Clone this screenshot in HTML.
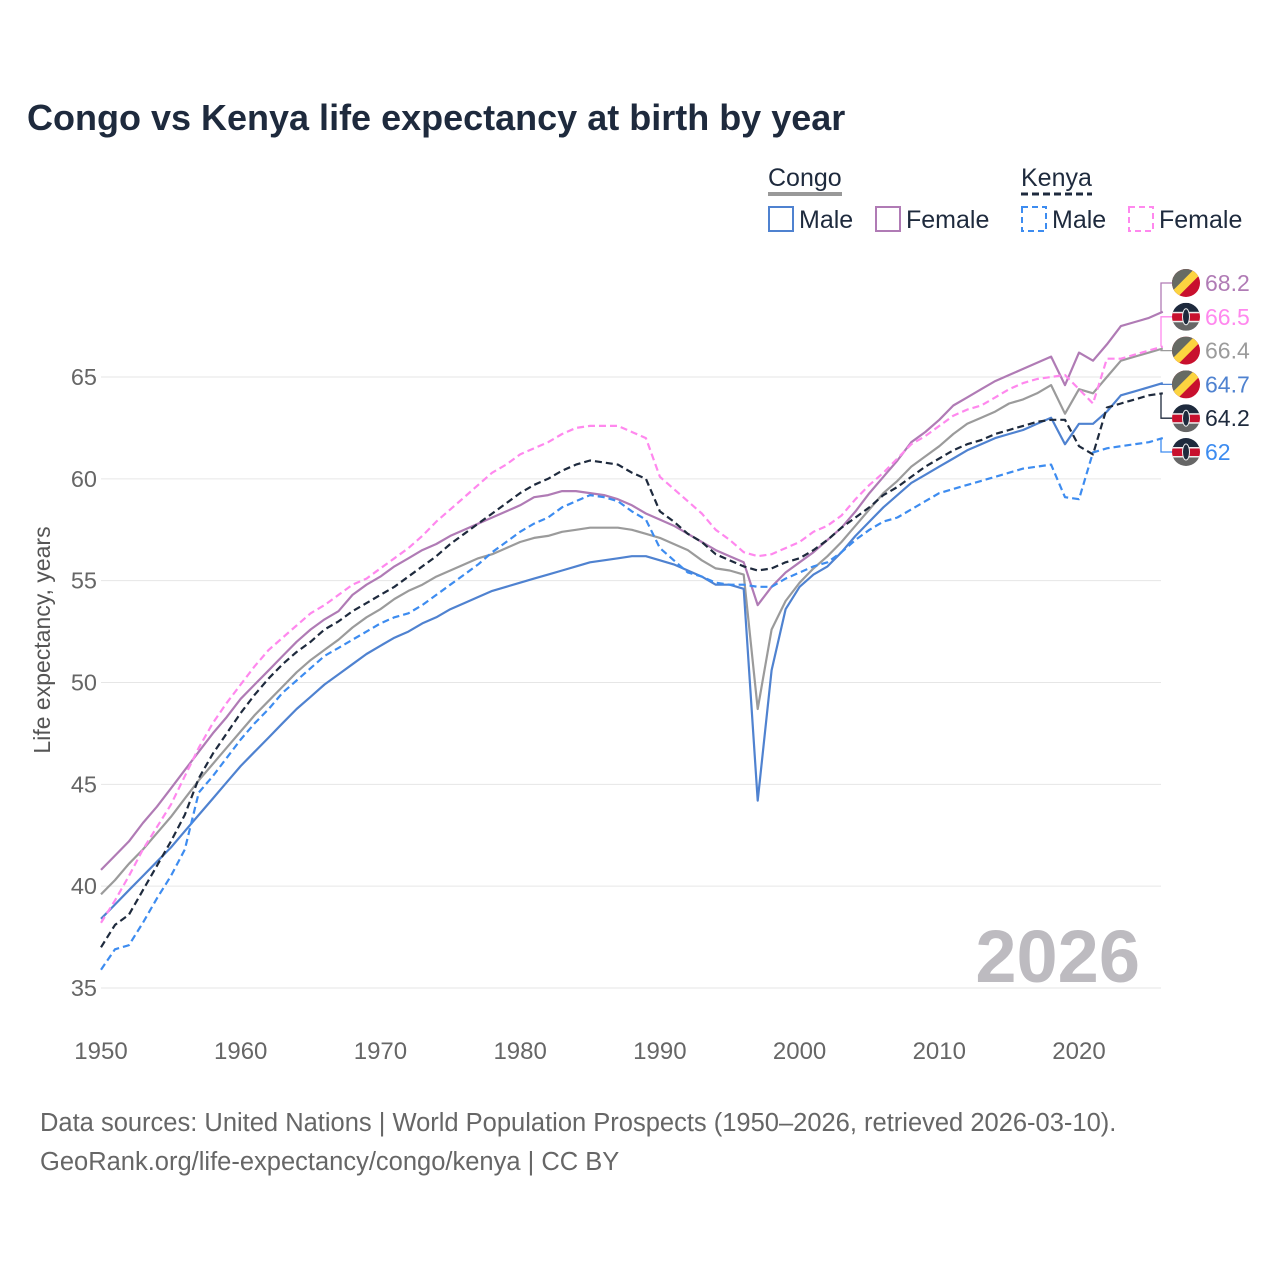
<!DOCTYPE html>
<html><head><meta charset="utf-8"><style>
body{margin:0;background:#fff;font-family:"Liberation Sans",sans-serif;}
</style></head><body>
<svg id="chart" width="1280" height="1280" xmlns="http://www.w3.org/2000/svg" font-family="Liberation Sans, sans-serif">
<rect width="1280" height="1280" fill="#fff"/>
<text x="27" y="130" font-size="36" font-weight="bold" fill="#1e2a3d">Congo vs Kenya life expectancy at birth by year</text>
<g font-size="25" fill="#1e2a3d">
<text x="768" y="186" fill="#1e2a3d">Congo</text>
<line x1="768" y1="194" x2="842" y2="194" stroke="#999" stroke-width="4"/>
<text x="1021" y="186" fill="#1e2a3d">Kenya</text>
<line x1="1021" y1="194" x2="1092" y2="194" stroke="#1e2a3d" stroke-width="3" stroke-dasharray="7,4"/>
<g><rect x="769" y="207" width="24" height="24" fill="none" stroke="#4f82d0" stroke-width="2"/><text x="799" y="228">Male</text></g>
<g><rect x="876" y="207" width="24" height="24" fill="none" stroke="#b07bb5" stroke-width="2"/><text x="906" y="228">Female</text></g>
<g><rect x="1022" y="207" width="24" height="24" fill="none" stroke="#3d8cf0" stroke-width="2" stroke-dasharray="6,4"/><text x="1052" y="228">Male</text></g>
<g><rect x="1129" y="207" width="24" height="24" fill="none" stroke="#ff88ee" stroke-width="2" stroke-dasharray="6,4"/><text x="1159" y="228">Female</text></g>
</g>
<g id="grid"></g>
<g id="axes"></g>
<text x="1140" y="982" text-anchor="end" font-size="74" font-weight="bold" fill="#bdbbc0">2026</text>
<g id="series"></g>
<g id="labels"></g>
<text transform="translate(50,640) rotate(-90)" text-anchor="middle" font-size="23" fill="#555">Life expectancy, years</text>
<text x="40" y="1131" font-size="25.5" fill="#666">Data sources: United Nations | World Population Prospects (1950–2026, retrieved 2026-03-10).</text>
<text x="40" y="1170" font-size="25.5" fill="#666">GeoRank.org/life-expectancy/congo/kenya | CC BY</text>
</svg>
<script>
const startYear = 1950;
const yTicks = [35,40,45,50,55,60,65];
const xTicks = [1950,1960,1970,1980,1990,2000,2010,2020];
const congoFemale = [40.8,41.5,42.2,43.1,43.9,44.8,45.7,46.6,47.5,48.3,49.2,49.9,50.6,51.3,52.0,52.6,53.1,53.5,54.3,54.8,55.2,55.7,56.1,56.5,56.8,57.2,57.5,57.8,58.1,58.4,58.7,59.1,59.2,59.4,59.4,59.3,59.2,59.0,58.7,58.3,58.0,57.7,57.3,56.9,56.5,56.2,55.9,53.8,54.7,55.4,55.9,56.4,57.0,57.6,58.4,59.3,60.1,60.9,61.8,62.3,62.9,63.6,64.0,64.4,64.8,65.1,65.4,65.7,66.0,64.6,66.2,65.8,66.6,67.5,67.7,67.9,68.2];
const congoTotal = [39.6,40.3,41.1,41.8,42.6,43.4,44.3,45.2,46.0,46.8,47.6,48.4,49.1,49.8,50.5,51.1,51.6,52.1,52.7,53.2,53.6,54.1,54.5,54.8,55.2,55.5,55.8,56.1,56.3,56.6,56.9,57.1,57.2,57.4,57.5,57.6,57.6,57.6,57.5,57.3,57.1,56.8,56.5,56.0,55.6,55.5,55.3,48.7,52.6,54.0,54.9,55.6,56.2,56.9,57.7,58.5,59.3,59.9,60.6,61.1,61.6,62.2,62.7,63.0,63.3,63.7,63.9,64.2,64.6,63.2,64.4,64.2,65.0,65.8,66.0,66.2,66.4];
const congoMale = [38.4,39.1,39.8,40.5,41.2,41.9,42.7,43.5,44.3,45.1,45.9,46.6,47.3,48.0,48.7,49.3,49.9,50.4,50.9,51.4,51.8,52.2,52.5,52.9,53.2,53.6,53.9,54.2,54.5,54.7,54.9,55.1,55.3,55.5,55.7,55.9,56.0,56.1,56.2,56.2,56.0,55.8,55.5,55.2,54.8,54.8,54.6,44.2,50.6,53.6,54.7,55.3,55.7,56.4,57.2,57.9,58.6,59.2,59.8,60.2,60.6,61.0,61.4,61.7,62.0,62.2,62.4,62.7,63.0,61.7,62.7,62.7,63.3,64.1,64.3,64.5,64.7];
const kenyaTotal = [37.0,38.1,38.6,39.8,41.0,42.2,43.5,45.3,46.5,47.5,48.5,49.4,50.2,50.9,51.5,52.0,52.6,53.0,53.5,53.9,54.3,54.7,55.2,55.7,56.2,56.8,57.3,57.8,58.3,58.8,59.3,59.7,60.0,60.4,60.7,60.9,60.8,60.7,60.3,60.0,58.4,57.9,57.3,56.9,56.3,56.0,55.7,55.5,55.6,55.9,56.1,56.5,57.0,57.6,58.1,58.6,59.2,59.6,60.1,60.6,61.0,61.4,61.7,61.9,62.2,62.4,62.6,62.8,62.9,62.9,61.6,61.2,63.5,63.7,63.9,64.1,64.2];
const kenyaFemale = [38.2,39.3,40.5,41.8,42.9,44.0,45.4,46.8,48.0,49.0,49.9,50.8,51.6,52.2,52.8,53.4,53.8,54.3,54.8,55.1,55.6,56.1,56.6,57.2,57.9,58.5,59.1,59.7,60.3,60.7,61.2,61.5,61.8,62.2,62.5,62.6,62.6,62.6,62.3,62.0,60.1,59.5,58.9,58.3,57.5,57.0,56.4,56.2,56.3,56.6,56.9,57.4,57.7,58.2,59.0,59.7,60.3,61.0,61.7,62.1,62.6,63.1,63.4,63.6,64.0,64.4,64.7,64.9,65.0,65.1,64.4,63.7,65.9,65.9,66.1,66.3,66.5];
const kenyaMale = [35.9,36.9,37.1,38.2,39.4,40.5,41.8,44.6,45.4,46.3,47.2,48.0,48.7,49.5,50.1,50.7,51.3,51.7,52.1,52.5,52.9,53.2,53.4,53.8,54.3,54.8,55.3,55.8,56.4,56.9,57.4,57.8,58.1,58.6,58.9,59.2,59.1,58.9,58.4,58.0,56.6,56.0,55.4,55.2,54.9,54.8,54.8,54.7,54.7,55.1,55.4,55.7,55.9,56.4,57.0,57.5,57.9,58.1,58.5,58.9,59.3,59.5,59.7,59.9,60.1,60.3,60.5,60.6,60.7,59.1,59.0,61.3,61.5,61.6,61.7,61.8,62.0];
const labelValues = [68.2,66.5,66.4,64.7,64.2,62];

const NS="http://www.w3.org/2000/svg";
const X0=101, X1=1161, Y35=988, Y65=377;
const xs = yr => X0 + (yr-1950)*(1079-101)/70;
const ys = v => Y35 - (v-35)*(Y35-Y65)/30;
function mk(tag, attrs, parent){const e=document.createElementNS(NS,tag);for(const k in attrs)e.setAttribute(k,attrs[k]);parent.appendChild(e);return e;}
const grid=document.getElementById('grid'), axes=document.getElementById('axes');
yTicks.forEach(t=>{
  const l=mk('line',{x1:X0,x2:X1,y1:ys(t),y2:ys(t),stroke:'#e6e6e6','stroke-width':1},grid);
  
  
  const tx=mk('text',{x:97,y:ys(t)+8,'text-anchor':'end','font-size':23.5,fill:'#666'},axes);
  
  
  tx.textContent=t;
});
xTicks.forEach(t=>{
  const tx=mk('text',{x:xs(t),y:1059,'text-anchor':'middle','font-size':24,fill:'#666'},axes);
  
  
  tx.textContent=t;
});
const seriesG=document.getElementById('series');
function draw(arr,color,dash,name){
  const d=arr.map((v,i)=>(i?'L':'M')+xs(startYear+i).toFixed(1)+','+ys(v).toFixed(1)).join(' ');
  const p=mk('path',{d:d,fill:'none',stroke:color,'stroke-width':2.2,'stroke-linejoin':'round'},seriesG);
  if(dash)p.setAttribute('stroke-dasharray',dash);
  
  
}
draw(congoTotal,'#9b9b9b',null,'line-congo-total');
draw(congoMale,'#4f82d0',null,'line-congo-male');
draw(congoFemale,'#b07bb5',null,'line-congo-female');
draw(kenyaMale,'#3d8cf0','7,4','line-kenya-male');
draw(kenyaFemale,'#ff88ee','7,4','line-kenya-female');
draw(kenyaTotal,'#1e2a3d','7,4','line-kenya-total');

const labels=document.getElementById('labels');
const lab=[
 {v:congoFemale[76],c:'#b07bb5',f:'congo'},
 {v:kenyaFemale[76],c:'#ff88ee',f:'kenya'},
 {v:congoTotal[76],c:'#9b9b9b',f:'congo'},
 {v:congoMale[76],c:'#4f82d0',f:'congo'},
 {v:kenyaTotal[76],c:'#1e2a3d',f:'kenya'},
 {v:kenyaMale[76],c:'#3d8cf0',f:'kenya'}];
lab.forEach((L,i)=>{
  const ly=283+i*33.8, sy=ys(L.v);
  const c=mk('path',{d:`M${X1},${sy} L1161,${sy} L1161,${ly} L1172,${ly}`,fill:'none',stroke:L.c,'stroke-width':1.3},labels);
  
  
  const g=mk('g',{},labels);
  
  
  const cid='cl'+i;
  const cp=mk('clipPath',{id:cid},g); mk('circle',{cx:1186,cy:ly,r:14},cp);
  const gg=mk('g',{'clip-path':`url(#${cid})`},g);
  if(L.f==='congo'){
    mk('rect',{x:1172,y:ly-14,width:28,height:28,fill:'#c8102e'},gg);
    mk('polygon',{points:`1172,${ly-14} 1200,${ly-14} 1172,${ly+14}`,fill:'#666a63'},gg);
    mk('line',{x1:1170,y1:ly+16,x2:1202,y2:ly-16,stroke:'#fcd440','stroke-width':8},gg);
  } else {
    mk('rect',{x:1172,y:ly-14,width:28,height:10,fill:'#1e2a3d'},gg);
    mk('rect',{x:1172,y:ly-4,width:28,height:9,fill:'#c8102e'},gg);
    mk('rect',{x:1172,y:ly+5,width:28,height:9,fill:'#666'},gg);
    mk('rect',{x:1172,y:ly-5,width:28,height:1.5,fill:'#eee'},gg);
    mk('rect',{x:1172,y:ly+4,width:28,height:1.5,fill:'#eee'},gg);
    mk('ellipse',{cx:1186,cy:ly,rx:3.5,ry:8,fill:'#1e2a3d',stroke:'#eee','stroke-width':1},gg);
  }
  const t=mk('text',{x:1205,y:ly+8,'font-size':23,fill:L.c},labels);
  
  
  t.textContent=labelValues[i];
});
</script>
</body></html>
